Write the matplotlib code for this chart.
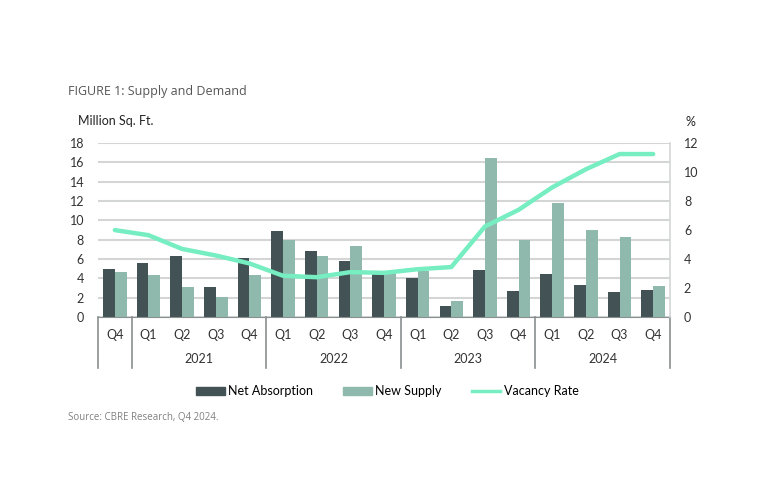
import matplotlib.pyplot as plt
import numpy as np
from matplotlib.patches import Patch
from matplotlib.lines import Line2D

# Supply and Demand, Q4 2020 - Q4 2024
quarters = ["Q4", "Q1", "Q2", "Q3", "Q4", "Q1", "Q2", "Q3", "Q4",
            "Q1", "Q2", "Q3", "Q4", "Q1", "Q2", "Q3", "Q4"]
years = ["2021", "2022", "2023", "2024"]
net_absorption = [5.0, 5.55, 6.3, 3.15, 6.15, 8.95, 6.85, 5.85, 4.5,
                  4.0, 1.1, 4.9, 2.7, 4.45, 3.3, 2.55, 2.85]
new_supply = [4.7, 4.35, 3.15, 2.05, 4.4, 8.0, 6.3, 7.35, 4.55,
              4.75, 1.65, 16.45, 7.95, 11.8, 9.05, 8.3, 3.2]
vacancy_rate = [6.0, 5.65, 4.7, 4.25, 3.7, 2.85, 2.75, 3.1, 3.05,
                3.3, 3.45, 6.25, 7.4, 8.95, 10.2, 11.25, 11.25]

dark = "#435254"
sage = "#8fb9ac"
mint = "#76eec2"
grid = "#d4d6d6"

plt.rcParams['font.family'] = ['Lato', 'DejaVu Sans']

fig = plt.figure(figsize=(7.68, 4.87), dpi=100)
ax = fig.add_axes([0.1276, 0.349, 0.7448, 0.357])
ax2 = ax.twinx()

x = np.arange(len(quarters))
w = 0.35
ax.bar(x - w / 2, net_absorption, w, color=dark, zorder=2)
ax.bar(x + w / 2, new_supply, w, color=sage, zorder=2)
ax2.plot(x, vacancy_rate, color=mint, lw=3.2, solid_capstyle='round', zorder=3)

ax.set_xlim(-0.5, len(quarters) - 0.5)
ax.set_ylim(0, 18)
ax.set_yticks(range(0, 19, 2))
ax2.set_ylim(0, 12)
ax2.set_yticks(range(0, 13, 2))
ax.yaxis.grid(True, color=grid, lw=1.5, zorder=0)
ax.set_axisbelow(True)
ax.set_xticks([])

for a in (ax, ax2):
    for s in ("top", "left", "right", "bottom"):
        a.spines[s].set_visible(False)
    a.tick_params(axis='y', length=0, labelsize=9, colors="#333333")
ax.tick_params(axis='y', pad=10)
ax2.tick_params(axis='y', pad=10)
ax2.spines["right"].set_visible(True)
ax2.spines["right"].set_color(grid)
ax2.spines["right"].set_linewidth(1.2)
ax.spines["bottom"].set_visible(True)
ax.spines["bottom"].set_color("#8a8f8f")

# category axis: quarters and years
tr = ax.get_xaxis_transform()
for i, q in enumerate(quarters):
    ax.text(i, -0.103, q, transform=tr, ha='center', va='center',
            fontsize=9, color="#333333")
for k, yr in enumerate(years):
    ax.text(1 + 4 * k + 1.5, -0.24, yr, transform=tr, ha='center',
            va='center', fontsize=9, color="#333333")
for sx in [-0.5, 0.5, 4.5, 8.5, 12.5, 16.5]:
    ax.plot([sx, sx], [0, -0.293], transform=tr, color="#8a8f8f",
            lw=1.2, clip_on=False)

fig.text(0.1015, 0.751, "Million Sq. Ft.", fontsize=9, color="#222222",
         va='center')
fig.text(0.893, 0.749, "%", fontsize=9, color="#222222", va='center')
fig.text(0.088, 0.813, "FIGURE 1: Supply and Demand", fontsize=9,
         color="#555555", va='center', family=['Open Sans', 'DejaVu Sans'])
fig.text(0.088, 0.142, "Source: CBRE Research, Q4 2024.", fontsize=7,
         color="#808080", va='center', family=['Open Sans', 'DejaVu Sans'])

handles = [Patch(color=dark), Patch(color=sage),
           Line2D([0], [0], color=mint, lw=2.5)]
fig.legend(handles, ["Net Absorption", "New Supply", "Vacancy Rate"],
           loc='center', bbox_to_anchor=(0.5045, 1 - 391 / 487), ncol=3,
           frameon=False, fontsize=9, handlelength=2.3, handleheight=0.6,
           columnspacing=2.4, handletextpad=0.25)

fig.savefig("out.png", dpi=100)
